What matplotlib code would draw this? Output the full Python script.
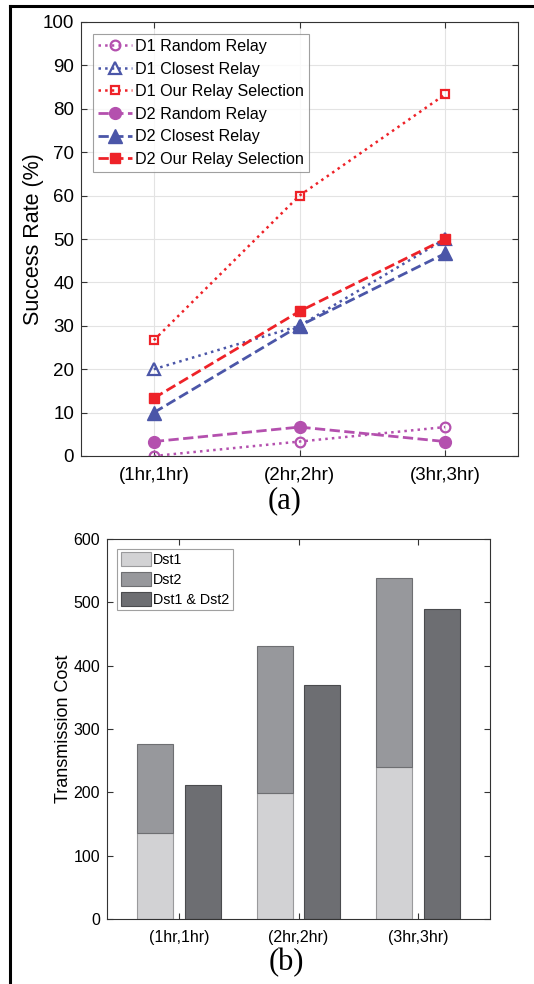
import numpy as np
import matplotlib as mpl
mpl.use("Agg")
import matplotlib.pyplot as plt
from matplotlib.lines import Line2D

plt.rcParams['font.family'] = ['Liberation Sans', 'DejaVu Sans']

# data, panel (a)
periods = ['(1hr,1hr)', '(2hr,2hr)', '(3hr,3hr)']
d1_random = [0, 3.33, 6.67]
d1_closest = [20, 30, 50]
d1_ours = [26.67, 60, 83.33]
d2_random = [3.33, 6.67, 3.33]
d2_closest = [10, 30, 46.67]
d2_ours = [13.33, 33.33, 50]

# data, panel (b)
dst1 = [136, 199, 240]
dst2 = [140, 232, 298]
dst_both = [212, 370, 490]

purple = '#b450ae'
blue = '#4b56a8'
red = '#ee2228'

fig = plt.figure(figsize=(5.34, 9.84), dpi=100)
W, H = 534.0, 984.0

def box(l, t, r, b):
    return [l / W, 1 - b / H, (r - l) / W, (b - t) / H]

# ---------- (a) ----------
ax = fig.add_axes(box(81, 22, 518, 456))
x = np.arange(1, 4)
ax.plot(x, d1_random, ':', color=purple, lw=1.8, marker='o', ms=7, mfc='none', mew=1.6, label='D1 Random Relay')
ax.plot(x, d1_closest, ':', color=blue, lw=1.8, marker='^', ms=9, mfc='none', mew=1.6, label='D1 Closest Relay')
ax.plot(x, d1_ours, ':', color=red, lw=1.8, marker='s', ms=6, mfc='none', mew=1.6, label='D1 Our Relay Selection')
ax.plot(x, d2_random, '--', color=purple, lw=2, marker='o', ms=8.5, label='D2 Random Relay')
ax.plot(x, d2_closest, '--', color=blue, lw=2, marker='^', ms=10, label='D2 Closest Relay')
ax.plot(x, d2_ours, '--', color=red, lw=2, marker='s', ms=7, label='D2 Our Relay Selection')
ax.set_xlim(0.5, 3.5)
ax.set_ylim(0, 100)
ax.set_xticks(x)
ax.set_xticklabels(periods)
ax.set_yticks(np.arange(0, 101, 10))
ax.grid(True, color='#e3e3e3', lw=0.8)
ax.set_axisbelow(True)
ax.tick_params(direction='in', top=True, right=True, labelsize=13.5, color='#333333', length=4)
ax.tick_params(axis='x', pad=8)
ax.tick_params(axis='y', pad=5)
for s in ax.spines.values():
    s.set_color('#333333')
    s.set_linewidth(0.8)
ax.set_ylabel('Success Rate (%)', fontsize=15.5, labelpad=-1)
leg = ax.legend(loc='upper left', bbox_to_anchor=(0.0275, 0.972), fontsize=11.6, frameon=True,
                fancybox=False, edgecolor='#888888', handlelength=2.1, handletextpad=0.2,
                borderpad=0.3, labelspacing=0.47, borderaxespad=0)
leg.get_frame().set_linewidth(0.8)
fig.text(285 / W, 1 - 501 / H, '(a)', ha='center', va='center',
         fontsize=22, family=['Liberation Serif'])

# ---------- (b) ----------
bx = fig.add_axes(box(107, 539, 490, 919))
w = 0.3
bx.bar(x - 0.2, dst1, w, color='#d2d2d4', edgecolor='#9a9a9c', lw=0.8, label='Dst1')
bx.bar(x - 0.2, dst2, w, bottom=dst1, color='#97989c', edgecolor='#6e6f72', lw=0.8, label='Dst2')
bx.bar(x + 0.2, dst_both, w, color='#6d6e72', edgecolor='#4a4b4e', lw=0.8, label='Dst1 & Dst2')
bx.set_xlim(0.4, 3.6)
bx.set_ylim(0, 600)
bx.set_xticks(x)
bx.set_xticklabels(periods)
bx.set_yticks(np.arange(0, 601, 100))
bx.tick_params(direction='in', top=True, right=True, labelsize=11.5, color='#333333', length=4)
bx.tick_params(axis='x', pad=8)
bx.tick_params(axis='y', pad=5)
for s in bx.spines.values():
    s.set_color('#333333')
    s.set_linewidth(0.8)
bx.set_ylabel('Transmission Cost', fontsize=13, labelpad=1)
leg2 = bx.legend(loc='upper left', bbox_to_anchor=(0.026, 0.974), fontsize=10.3, frameon=True,
                 fancybox=False, edgecolor='#888888', handlelength=2.1, handleheight=1.05,
                 handletextpad=0.15, borderpad=0.25, labelspacing=0.38, borderaxespad=0)
leg2.get_frame().set_linewidth(0.8)
fig.text(286 / W, 1 - 963 / H, '(b)', ha='center', va='center',
         fontsize=22, family=['Liberation Serif'])

# outer frame (left and top edges)
fig.add_artist(Line2D([10 / W, 10 / W], [0, 1 - 6 / H], color='black', lw=2.2, transform=fig.transFigure))
fig.add_artist(Line2D([10 / W, 1], [1 - 6 / H, 1 - 6 / H], color='black', lw=2.2, transform=fig.transFigure))

fig.savefig('out.png', dpi=100)
